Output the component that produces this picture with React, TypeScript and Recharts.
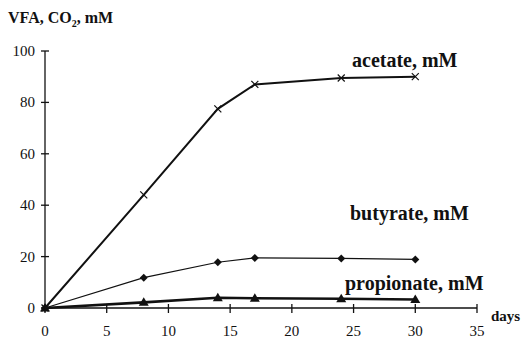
import { Line, LineChart, XAxis, YAxis } from "recharts";

const days = [0, 8, 14, 17, 24, 30];
const acetate = [0, 44, 77.5, 87, 89.5, 90];
const butyrate = [0, 11.8, 17.8, 19.5, 19.3, 18.9];
const propionate = [0, 2.2, 4, 3.8, 3.6, 3.3];
const xTicks = [0, 5, 10, 15, 20, 25, 30, 35];
const yTicks = [0, 20, 40, 60, 80, 100];

const data = days.map((d, i) => ({
  day: d,
  acetate: acetate[i],
  butyrate: butyrate[i],
  propionate: propionate[i],
}));

const ink = "#111";
const serif = "'Liberation Serif', 'DejaVu Serif', serif";

const YTick = ({ x, y, payload }: any) => (
  <g>
    <line x1={x - 4} x2={x + 4} y1={y} y2={y} stroke={ink} strokeWidth={1.3} />
    <text x={x - 10} y={y} dy={5} textAnchor="end" fontSize={15} fontFamily={serif} fill={ink}>
      {payload.value}
    </text>
  </g>
);

const XTick = ({ x, y, payload }: any) => (
  <g>
    <line x1={x} x2={x} y1={y - 4} y2={y + 5} stroke={ink} strokeWidth={1.3} />
    <text x={x} y={y + 28} textAnchor="middle" fontSize={15} fontFamily={serif} fill={ink}>
      {payload.value}
    </text>
  </g>
);

const CrossDot = ({ cx, cy }: any) => (
  <g stroke={ink} strokeWidth={1.2}>
    <line x1={cx - 3.5} y1={cy - 3.5} x2={cx + 3.5} y2={cy + 3.5} />
    <line x1={cx - 3.5} y1={cy + 3.5} x2={cx + 3.5} y2={cy - 3.5} />
  </g>
);

const DiamondDot = ({ cx, cy }: any) => (
  <polygon points={`${cx},${cy - 4} ${cx + 4},${cy} ${cx},${cy + 4} ${cx - 4},${cy}`} fill={ink} />
);

const TriDot = ({ cx, cy }: any) => (
  <polygon points={`${cx},${cy - 5} ${cx + 5},${cy + 3.5} ${cx - 5},${cy + 3.5}`} fill={ink} />
);

const label = (left: number, top: number, text: string, size: number) => (
  <div
    style={{
      position: "absolute",
      left,
      top,
      fontFamily: serif,
      fontWeight: "bold",
      fontSize: size,
      color: ink,
      lineHeight: 1,
      whiteSpace: "nowrap",
    }}
  >
    {text}
  </div>
);

export default function App() {
  return (
    <div style={{ position: "absolute", left: 0, top: 0, width: 528, height: 340, background: "#fff" }}>
      <LineChart width={528} height={340} data={data} margin={{ top: 51, right: 51, left: 0, bottom: 12 }}>
        <XAxis
          dataKey="day"
          type="number"
          domain={[0, 35]}
          ticks={xTicks}
          tickLine={false}
          tickSize={0}
          tickMargin={0}
          height={20}
          stroke={ink}
          strokeWidth={1.3}
          tick={<XTick />}
        />
        <YAxis
          type="number"
          domain={[0, 100]}
          ticks={yTicks}
          tickLine={false}
          tickSize={0}
          tickMargin={0}
          width={45}
          stroke={ink}
          strokeWidth={1.3}
          tick={<YTick />}
        />
        <Line dataKey="acetate" stroke={ink} strokeWidth={2} dot={<CrossDot />} isAnimationActive={false} />
        <Line dataKey="butyrate" stroke={ink} strokeWidth={1.2} dot={<DiamondDot />} isAnimationActive={false} />
        <Line dataKey="propionate" stroke={ink} strokeWidth={2.6} dot={<TriDot />} isAnimationActive={false} />
      </LineChart>
      <div
        style={{
          position: "absolute",
          left: 8,
          top: 9,
          fontFamily: serif,
          fontWeight: "bold",
          fontSize: 16,
          color: ink,
          whiteSpace: "nowrap",
        }}
      >
        VFA, CO<sub style={{ fontSize: 10 }}>2</sub>, mM
      </div>
      {label(352, 50, "acetate, mM", 20)}
      {label(350, 203, "butyrate, mM", 20)}
      {label(345, 273, "propionate, mM", 20)}
      {label(491, 309, "days", 15)}
    </div>
  );
}
